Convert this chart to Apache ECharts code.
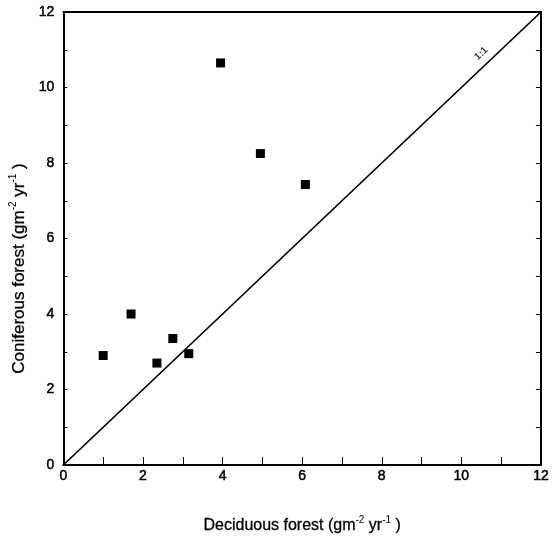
<!DOCTYPE html>
<html>
<head>
<meta charset="utf-8">
<script src="https://cdn.jsdelivr.net/npm/echarts@6/dist/echarts.min.js"></script>
<style>
  html,body{margin:0;padding:0;background:#fff;}
  #main{width:552px;height:546px;}
</style>
</head>
<body>
<div id="main"></div>
<script>
// deciduous (x) vs coniferous (y)
var deciduous  = [1.0, 1.7, 2.35, 2.75, 3.15, 3.95, 4.95, 6.08];
var coniferous = [2.9, 4.0, 2.7, 3.35, 2.95, 10.65, 8.25, 7.43];
var lineX = [0, 12];
var lineY = [0, 12];
var ratioLabelPos = [10.5, 10.9];

var points = [];
for (var i = 0; i < deciduous.length; i++) {
  points.push([deciduous[i], coniferous[i]]);
}
var diag = [];
for (var j = 0; j < lineX.length; j++) {
  diag.push([lineX[j], lineY[j]]);
}

var font = 'Liberation Sans, Arial, sans-serif';
function nameRich(size) {
  return {
    a: {fontSize: size, lineHeight: 22, color: '#000', fontFamily: font,
      textBorderColor: '#000', textBorderWidth: 0.3},
    s: {fontSize: 10, lineHeight: 11, verticalAlign: 'top', color: '#000', fontFamily: font}
  };
}
// scanned print looks a bit heavier than plain text
var tickLabel = {fontSize: 14, color: '#000', fontFamily: font,
  textBorderColor: '#000', textBorderWidth: 0.5};

var myChart = echarts.init(document.getElementById('main'));
var option = {
  animation: false,
  grid: {left: 61, right: 10, top: 12, bottom: 81},
  xAxis: [
    {
      type: 'value', position: 'bottom', min: 0, max: 12, interval: 2,
      name: '{a|Deciduous forest (gm}{s|-2}{a| yr}{s|-1}{a| )}',
      nameLocation: 'middle', nameGap: 50,
      nameTextStyle: {rich: nameRich(16)},
      axisLine: {lineStyle: {color: '#000', width: 2}},
      axisTick: {inside: true, length: 8, lineStyle: {color: '#000'}},
      minorTick: {show: true, splitNumber: 2, length: 8, lineStyle: {color: '#000'}},
      splitLine: {show: false},
      axisLabel: Object.assign({margin: 4}, tickLabel)
    },
    {
      type: 'value', position: 'top', min: 0, max: 12,
      axisLine: {show: true, onZero: false, lineStyle: {color: '#000', width: 2}},
      axisTick: {show: false}, axisLabel: {show: false}, splitLine: {show: false}
    }
  ],
  yAxis: [
    {
      type: 'value', position: 'left', min: 0, max: 12, interval: 2,
      name: '{a|Coniferous forest (gm}{s|-2}{a| yr}{s|-1}{a| )}',
      nameLocation: 'middle', nameGap: 29,
      nameTextStyle: {rich: nameRich(17), padding: [0, 60, 0, 0]},
      axisLine: {show: true, lineStyle: {color: '#000', width: 2}},
      axisTick: {inside: true, length: 4, lineStyle: {color: '#000'}},
      minorTick: {show: true, splitNumber: 2, length: 4, lineStyle: {color: '#000'}},
      splitLine: {show: false},
      axisLabel: Object.assign({margin: 9}, tickLabel)
    },
    {
      type: 'value', position: 'right', min: 0, max: 12, interval: 2,
      axisLine: {show: true, onZero: false, lineStyle: {color: '#000', width: 2}},
      axisTick: {inside: true, length: 5, lineStyle: {color: '#000'}},
      minorTick: {show: true, splitNumber: 2, length: 5, lineStyle: {color: '#000'}},
      axisLabel: {show: false}, splitLine: {show: false}
    }
  ],
  series: [
    {
      type: 'line', data: diag, symbol: 'none',
      lineStyle: {color: '#000', width: 1.7}
    },
    {
      type: 'scatter', data: points, symbol: 'rect', symbolSize: 9,
      itemStyle: {color: '#000', opacity: 1}
    },
    {
      type: 'scatter', data: [ratioLabelPos], symbolSize: 0,
      label: {show: true, formatter: '1:1', position: 'inside', rotate: 43,
        fontSize: 10, fontWeight: 'bold', color: '#000', fontFamily: font}
    }
  ]
};
myChart.setOption(option);
</script>
</body>
</html>
